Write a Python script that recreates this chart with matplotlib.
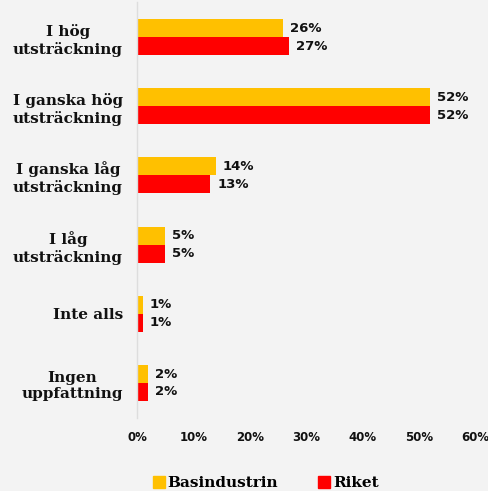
import matplotlib
matplotlib.use('Agg')
import matplotlib.pyplot as plt
from matplotlib.lines import Line2D
import numpy as np

categories = ['I hög\nutsträckning', 'I ganska hög\nutsträckning', 'I ganska låg\nutsträckning',
              'I låg\nutsträckning', 'Inte alls', 'Ingen\nuppfattning']
basindustrin = [26, 52, 14, 5, 1, 2]
riket = [27, 52, 13, 5, 1, 2]
series_names = ['Basindustrin', 'Riket']
xticks = [0, 10, 20, 30, 40, 50, 60]

yellow = '#FFC000'
red = '#FF0000'
bg = '#F3F3F3'

fig = plt.figure(figsize=(4.88, 4.91), dpi=100, facecolor=bg)
ax = fig.add_axes([0.2807, 0.1495, 0.6927, 0.8455], facecolor=bg)

y = np.arange(len(categories))
h = 0.26
ax.barh(y - h / 2, basindustrin, height=h, color=yellow)
ax.barh(y + h / 2, riket, height=h, color=red)

# value labels
for i in range(len(categories)):
    ax.annotate(f'{basindustrin[i]}%', (basindustrin[i], y[i] - h / 2), xytext=(5, 0),
                textcoords='offset points', va='center', ha='left',
                fontsize=9.5, fontweight='bold', color='#111111')
    ax.annotate(f'{riket[i]}%', (riket[i], y[i] + h / 2), xytext=(5, 0),
                textcoords='offset points', va='center', ha='left',
                fontsize=9.5, fontweight='bold', color='#111111')

ax.set_xlim(0, 60)
ax.set_ylim(len(categories) - 0.5, -0.5)
ax.set_xticks(xticks)
ax.set_xticklabels([f'{t}%' for t in xticks], fontsize=8.5, fontweight='bold', color='#111111')
ax.set_yticks(y)
ax.set_yticklabels(categories, fontsize=11, fontweight='bold', family='DejaVu Serif',
                   multialignment='center', color='#111111', linespacing=1.25)
ax.tick_params(axis='both', length=0)
ax.tick_params(axis='y', pad=10)
ax.tick_params(axis='x', pad=10)

for s in ['top', 'right', 'bottom']:
    ax.spines[s].set_visible(False)
ax.spines['left'].set_color('#DDDDDD')
ax.spines['left'].set_linewidth(1)

handles = [Line2D([], [], marker='s', linestyle='none', markersize=8, color=yellow),
           Line2D([], [], marker='s', linestyle='none', markersize=8, color=red)]
fig.legend(handles, series_names, loc='center', bbox_to_anchor=(0.545, 0.016), ncol=2,
           frameon=False, handlelength=0.7, handletextpad=0.2, columnspacing=2.7,
           prop={'family': 'DejaVu Serif', 'weight': 'bold', 'size': 11})

fig.savefig('out.png', dpi=100, facecolor=bg)
